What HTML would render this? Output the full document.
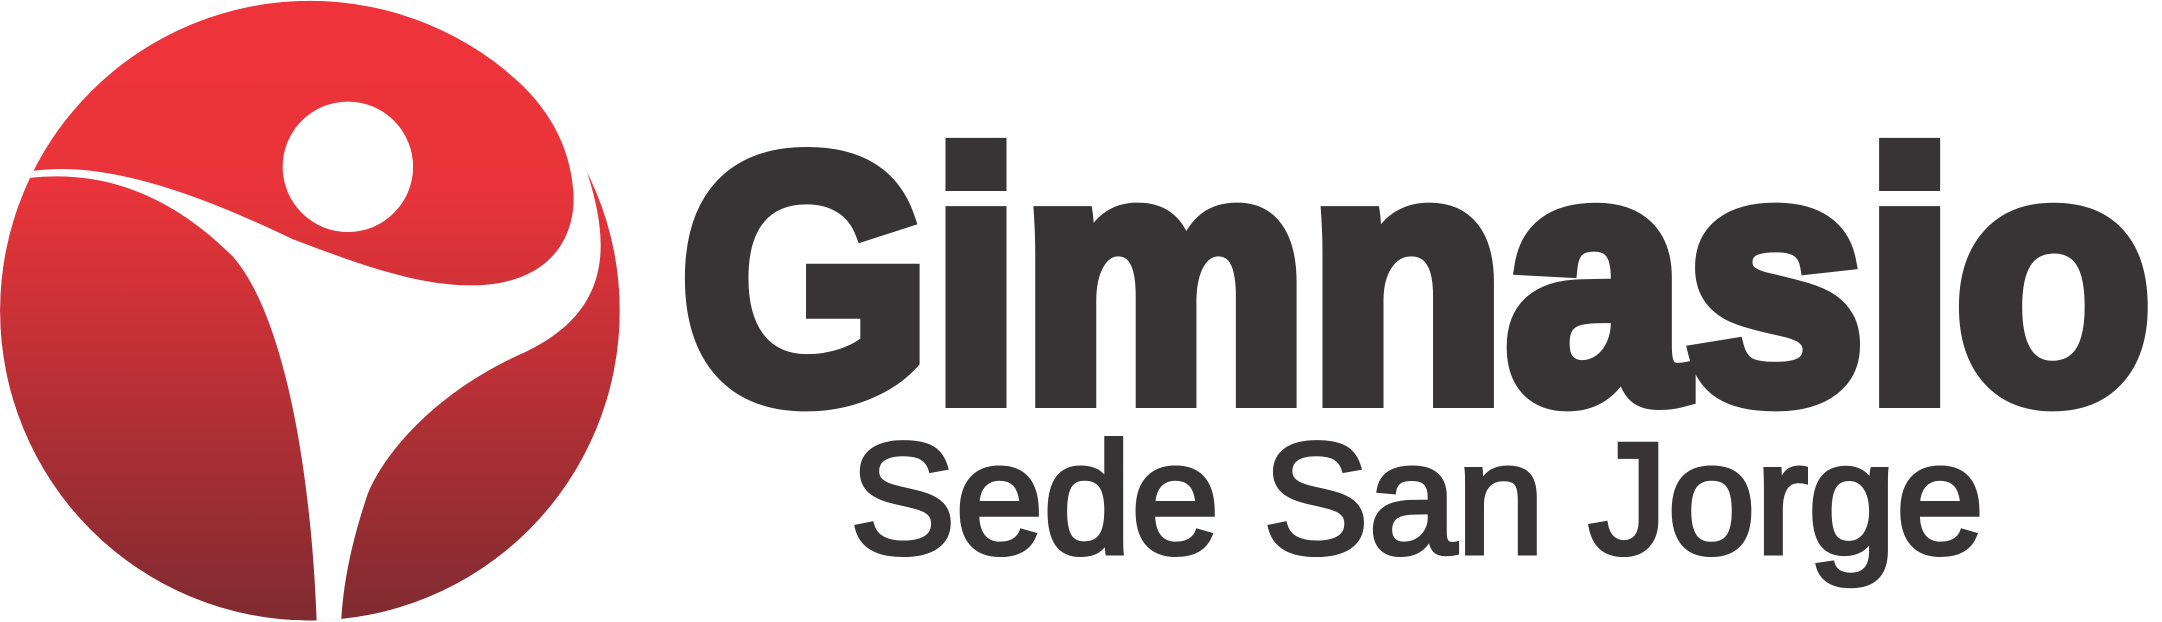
<!DOCTYPE html>
<html><head><meta charset="utf-8"><style>
html,body{margin:0;padding:0;background:#fff;width:2162px;height:622px;overflow:hidden}
svg{display:block}
</style></head><body>
<svg width="2162" height="622" viewBox="0 0 2162 622" xmlns="http://www.w3.org/2000/svg">
<defs>
<linearGradient id="rg" x1="0" y1="0" x2="0" y2="1">
<stop offset="0" stop-color="#ee343a"/>
<stop offset="0.3" stop-color="#e8343a"/>
<stop offset="1" stop-color="#7c2b30"/>
</linearGradient>
<clipPath id="cc"><circle cx="784" cy="786" r="784"/></clipPath>
</defs>
<g transform="scale(0.3953)" clip-path="url(#cc)">
<rect x="0" y="0" width="1600" height="1600" fill="url(#rg)" clip-path="url(#cc)"/>
<path fill="#fff"
d="M -20 432 L 85 432 C 250 410, 460 470, 740 605 C 900 665, 1050 722, 1190 722 C 1400 722, 1460 590, 1450 480 C 1440 360, 1380 260, 1280 180 L 1480 180 L 1480 420 C 1540 600, 1560 780, 1330 890 C 1100 990, 970 1150, 930 1250 C 890 1370, 865 1480, 862 1600 L 802 1600 C 790 1200, 720 800, 590 650 C 430 490, 260 430, 75 450 L -20 450 Z"/>
<circle cx="880" cy="422" r="165" fill="#fff"/>
</g>
<text x="680" y="399" font-family="Liberation Sans, Arial, sans-serif" font-weight="bold" font-size="348" fill="#363435" stroke="#363435" stroke-width="18" stroke-linejoin="miter" textLength="1472" lengthAdjust="spacingAndGlyphs">Gimnasio</text>
<text x="850" y="553" font-family="Liberation Sans, Arial, sans-serif" font-size="158" fill="#363435" stroke="#363435" stroke-width="5" textLength="1134" lengthAdjust="spacingAndGlyphs">Sede San Jorge</text>
</svg>
</body></html>
